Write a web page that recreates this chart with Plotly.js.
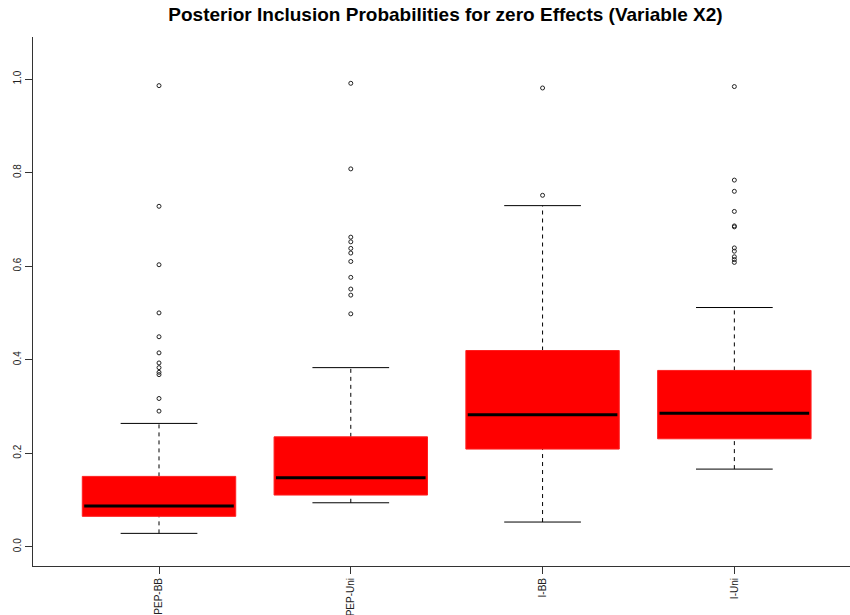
<!DOCTYPE html>
<html>
<head>
<meta charset="utf-8">
<script src="https://cdn.plot.ly/plotly-3.0.1.min.js"></script>
<style>html,body{margin:0;padding:0;background:#fff;}#chart{width:850px;height:615px;}</style>
</head>
<body>
<div id="chart"></div>
<script>
// ---- data ----
const categories = ["PEP-BB", "PEP-Uni", "I-BB", "I-Uni"];
const lowerWhisker = [0.0286, 0.094, 0.0528, 0.166];
const q1 = [0.065, 0.1105, 0.2088, 0.2308];
const median = [0.087, 0.1475, 0.282, 0.2857];
const q3 = [0.1504, 0.235, 0.4196, 0.377];
const upperWhisker = [0.2637, 0.383, 0.7294, 0.5115];
const outliersPEPBB = [0.290, 0.317, 0.368, 0.373, 0.383, 0.393, 0.4145, 0.449, 0.500, 0.603, 0.728, 0.986];
const outliersPEPUni = [0.498, 0.538, 0.551, 0.576, 0.610, 0.628, 0.638, 0.652, 0.662, 0.808, 0.991];
const outliersIBB = [0.7515, 0.981];
const outliersIUni = [0.608, 0.614, 0.620, 0.632, 0.639, 0.684, 0.686, 0.717, 0.760, 0.784, 0.984];
const outliers = [outliersPEPBB, outliersPEPUni, outliersIBB, outliersIUni];
const yTicks = [0, 0.2, 0.4, 0.6, 0.8, 1.0];
const yTickText = ["0.0", "0.2", "0.4", "0.6", "0.8", "1.0"];

// ---- build traces ----
const halfBox = 0.4, halfCap = 0.2;
const traces = [];
const pos = categories.map((c, i) => i + 1);

// whiskers (dashed)
const wx = [], wy = [];
pos.forEach((p, i) => {
  wx.push(p, p, null, p, p, null);
  wy.push(q3[i], upperWhisker[i], null, lowerWhisker[i], q1[i], null);
});
traces.push({x: wx, y: wy, type: 'scatter', mode: 'lines', hoverinfo: 'skip',
  line: {color: '#000', width: 1, dash: '4px,4px'}, connectgaps: false});

// boxes
pos.forEach((p, i) => {
  traces.push({
    x: [p - halfBox, p + halfBox, p + halfBox, p - halfBox, p - halfBox],
    y: [q1[i], q1[i], q3[i], q3[i], q1[i]],
    type: 'scatter', mode: 'lines', fill: 'toself', fillcolor: '#ff0000',
    line: {color: '#ff2020', width: 1}, hoverinfo: 'skip'
  });
});

// medians
const mx = [], my = [];
pos.forEach((p, i) => { mx.push(p - halfBox + 0.01, p + halfBox - 0.01, null); my.push(median[i], median[i], null); });
traces.push({x: mx, y: my, type: 'scatter', mode: 'lines', line: {color: '#000', width: 3}, hoverinfo: 'skip'});

// caps
const cx = [], cy = [];
pos.forEach((p, i) => {
  cx.push(p - halfCap, p + halfCap, null, p - halfCap, p + halfCap, null);
  cy.push(upperWhisker[i], upperWhisker[i], null, lowerWhisker[i], lowerWhisker[i], null);
});
traces.push({x: cx, y: cy, type: 'scatter', mode: 'lines', line: {color: '#000', width: 1}, hoverinfo: 'skip'});

// outliers
const ox = [], oy = [];
pos.forEach((p, i) => outliers[i].forEach(v => { ox.push(p); oy.push(v); }));
traces.push({x: ox, y: oy, type: 'scatter', mode: 'markers',
  marker: {symbol: 'circle-open', size: 4, color: '#222', line: {width: 1, color: '#222'}}});

const font = 'Liberation Sans, Arial, sans-serif';
const layout = {
  width: 850, height: 615,
  margin: {l: 33, r: 0, t: 36.5, b: 49, pad: 0},
  paper_bgcolor: '#fff', plot_bgcolor: '#fff',
  showlegend: false,
  title: {
    text: '<b>Posterior Inclusion Probabilities for zero Effects (Variable X2)</b>',
    font: {family: font, size: 19, color: '#000'},
    x: 445.5 / 850, xanchor: 'center', xref: 'container',
    y: 1 - 14.5 / 615, yanchor: 'middle', yref: 'container'
  },
  xaxis: {
    range: [0.343, 4.603], showgrid: false, zeroline: false,
    showline: true, linecolor: '#333', linewidth: 1,
    tickmode: 'array', tickvals: pos, ticktext: categories, tickangle: -90,
    ticks: 'outside', ticklen: 7, tickcolor: '#333', tickwidth: 1,
    tickfont: {family: font, size: 10, color: '#222'}
  },
  yaxis: {
    range: [-0.0412, 1.090], showgrid: false, zeroline: false,
    showline: true, linecolor: '#333', linewidth: 1,
    tickmode: 'array', tickvals: yTicks, ticktext: yTickText, tickangle: -90,
    ticks: 'outside', ticklen: 7, tickcolor: '#333', tickwidth: 1,
    tickfont: {family: font, size: 10, color: '#222'}
  }
};
Plotly.newPlot('chart', traces, layout, {staticPlot: true, displayModeBar: false});
</script>
</body>
</html>
